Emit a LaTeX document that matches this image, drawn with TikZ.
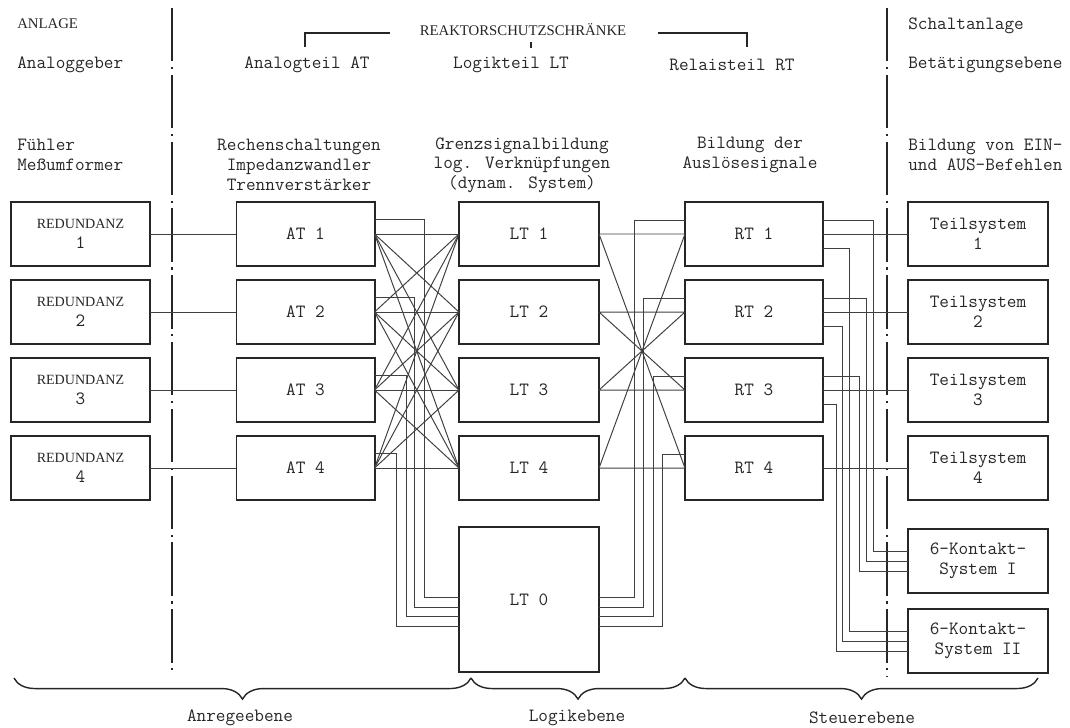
\documentclass[tikz,border=0pt]{standalone}
\usepackage{fontspec}
\newfontfamily\capserif{Liberation Serif}
\usetikzlibrary{positioning,decorations.pathreplacing,calc}
\newcommand\twtext{\fontsize{13.3}{14}\selectfont\ttfamily}
\newcommand\rmtext{\fontsize{10}{14}\selectfont\capserif}
\begin{document}
\begin{tikzpicture}[x=0.025cm, y=-0.025cm, node distance=3.5mm and 7mm,
  box/.style={draw=black!85, line width=1.4pt, minimum width=3.45cm, minimum height=1.6cm, inner sep=0pt, outer sep=0pt, align=center, font=\twtext, text=black!85},
  wbox/.style={box, minimum width=3.5cm},
  wire/.style={draw=black!75, line width=0.7pt},
  sepline/.style={draw=black!85, line width=1.4pt, dash pattern=on 38pt off 4pt on 1.5pt off 4pt},
  bracket/.style={draw=black!85, line width=2pt},
  brc/.style={draw=black!85, line width=1pt, decorate, decoration={brace, mirror, amplitude=15pt}},
  lbl/.style={font=\twtext, text=black!85, inner sep=0pt, align=center},
  captxt/.style={font=\rmtext\fontsize{10.5}{14}\selectfont, text=black!85, inner sep=0pt}]
\useasboundingbox (0,0) rectangle (1070,728);
% column heads
\node[captxt, anchor=west] (anl) at (17,24) {ANLAGE};
\node[lbl, anchor=west] (ag) at (17,65) {Analoggeber};
\node[lbl, anchor=west, align=left] (fm) at (17,155) {Fühler\\Meßumformer};
\node[captxt] (rsk) at (523,30) {REAKTORSCHUTZSCHRÄNKE};
\node[lbl] (hat) at (307,65) {Analogteil AT};
\node[lbl] (hlt) at (511,65) {Logikteil LT};
\node[lbl] (hrt) at (732,65) {Relaisteil RT};
\node[lbl, anchor=west] (sa) at (908,26) {Schaltanlage};
\node[lbl, anchor=west] (be) at (908,65) {Betätigungsebene};
\node[lbl] (dat) at (299,165) {Rechenschaltungen\\Impedanzwandler\\Trennverstärker};
\node[lbl] (dlt) at (522,165) {Grenzsignalbildung\\log. Verknüpfungen\\(dynam. System)};
\node[lbl] (drt) at (750,155) {Bildung der\\Auslösesignale};
\node[lbl, anchor=west, align=left] (dts) at (908,155) {Bildung von EIN-\\und AUS-Befehlen};
\draw[bracket] (305,47) |- (390,33); \draw[bracket] (658,33) -| (747,47); \draw[bracket] (531,42) -- (531,48);
% separators
\draw[sepline] (172,8) -- (172,672);
\draw[sepline] (887,8) -- (887,676);
% boxes
\node[box, font=\rmtext] (red1) at (80.5,234) {REDUNDANZ\\\twtext 1};
\node[box, font=\rmtext, below=of red1] (red2) {REDUNDANZ\\\twtext 2};
\node[box, font=\rmtext, below=of red2] (red3) {REDUNDANZ\\\twtext 3};
\node[box, font=\rmtext, below=of red3] (red4) {REDUNDANZ\\\twtext 4};
\node[box] (at1) at (305.5,234) {AT 1};
\node[box, below=of at1] (at2) {AT 2};
\node[box, below=of at2] (at3) {AT 3};
\node[box, below=of at3] (at4) {AT 4};
\node[wbox] (lt1) at (529,234) {LT 1};
\node[wbox, below=of lt1] (lt2) {LT 2};
\node[wbox, below=of lt2] (lt3) {LT 3};
\node[wbox, below=of lt3] (lt4) {LT 4};
\node[wbox, minimum height=3.625cm, below=6.75mm of lt4] (lt0) {LT 0};
\node[box] (rt1) at (754,234) {RT 1};
\node[box, below=of rt1] (rt2) {RT 2};
\node[box, below=of rt2] (rt3) {RT 3};
\node[box, below=of rt3] (rt4) {RT 4};
\node[wbox] (ts1) at (978,234) {Teilsystem\\1};
\node[wbox, below=of ts1] (ts2) {Teilsystem\\2};
\node[wbox, below=of ts2] (ts3) {Teilsystem\\3};
\node[wbox, below=of ts3] (ts4) {Teilsystem\\4};
\node[wbox, below=7.25mm of ts4] (ks1) {6-Kontakt-\\System I};
\node[wbox, below=4mm of ks1] (ks2) {6-Kontakt-\\System II};
% wiring
\coordinate (hub) at ($(lt1.east)!0.5!(rt4.west)$);
\foreach \i in {1,...,4} \draw[wire] (red\i.east) -- (at\i.west);
\foreach \i in {1,...,4} \foreach \j in {1,...,4} \draw[wire] (at\i.east) -- (lt\j.west);
\foreach \i/\dx/\dy in {1/50/0.6, 2/40/-1.9, 3/32/-4.1, 4/22/-6.6}
  \draw[wire] ([yshift=3.75mm]at\i.east) -- ++(\dx,0) |- ([yshift=\dy mm]lt0.west);
\foreach \i in {1,...,4} \draw[wire] (lt\i.east) -- (rt\i.west) (lt\i.east) -- (hub) -- (rt\i.west);
\foreach \i/\dx/\dy in {1/-51/0.6, 2/-42/-1.9, 3/-32/-4.1, 4/-23/-6.6}
  \draw[wire] ([yshift=3.5mm]rt\i.west) -- ++(\dx,0) |- ([yshift=\dy mm]lt0.east);
\foreach \i in {1,...,4} \draw[wire] (rt\i.east) -- (ts\i.west);
\foreach \i/\dx/\dy in {1/50/2.5, 2/43/0, 3/36/-2.5}
  \draw[wire] ([yshift=3.5mm]rt\i.east) -- ++(\dx,0) |- ([yshift=\dy mm]ks1.west);
\foreach \i/\dx/\dy in {1/26/2.5, 2/19/0, 3/13/-2.5}
  \draw[wire] ([yshift=-3.5mm]rt\i.east) -- ++(\dx,0) |- ([yshift=\dy mm]ks2.west);
% levels
\draw[brc] (14,678) -- (471,678); \draw[brc] (471,678) -- (685,678); \draw[brc] (685,678) -- (1038,678);
\node[lbl] (ane) at (240,718) {Anregeebene};
\node[lbl] (lge) at (577,718) {Logikebene};
\node[lbl] (ste) at (862,718) {Steuerebene};
\end{tikzpicture}
\end{document}
